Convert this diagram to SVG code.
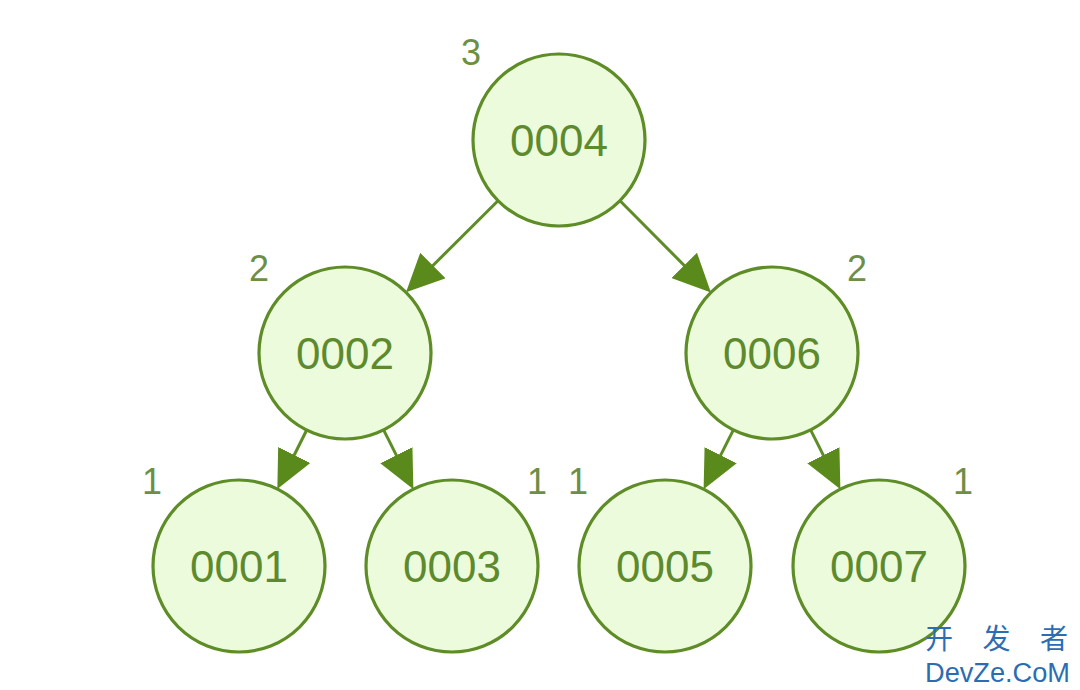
<svg xmlns="http://www.w3.org/2000/svg" width="1080" height="690" viewBox="0 0 1080 690">
<style>
.node circle{fill:#ecfbdc;stroke:#5e8c26;stroke-width:3.2}
.node text{fill:#5e8a2e;font-family:"Liberation Sans",Arial,sans-serif;font-size:44px;text-anchor:middle;dominant-baseline:central}
.lvl{fill:#6d8f45;font-family:"Liberation Sans",Arial,sans-serif;font-size:36px;text-anchor:middle}
.edge{stroke:#5e8c26;stroke-width:3;fill:none;marker-end:url(#ah)}
.wm{fill:#2b6db3;font-family:"Liberation Sans","Noto Sans CJK SC",sans-serif}
</style>
<defs>
<marker id="ah" markerUnits="userSpaceOnUse" markerWidth="38" markerHeight="36" viewBox="0 0 38 36" refX="28" refY="18" orient="auto">
<path d="M0,0 L38,18 L0,36 Z" fill="#5a8a1c"/>
</marker>
</defs>
<rect width="1080" height="690" fill="#ffffff"/>
<g id="connectors">
<line class="edge" x1="498" y1="200.7" x2="413.1" y2="285.3"/>
<line class="edge" x1="620" y1="200.7" x2="703.9" y2="285.3"/>
<line class="edge" x1="306.7" y1="430" x2="281.8" y2="480"/>
<line class="edge" x1="383.6" y1="429.8" x2="408.9" y2="480.2"/>
<line class="edge" x1="733.4" y1="429.8" x2="708.1" y2="480.2"/>
<line class="edge" x1="810.6" y1="429.8" x2="835.9" y2="480.2"/>
</g>
<g id="n0004" class="node"><circle cx="559" cy="140" r="86"/><text x="559" y="140">0004</text></g>
<g id="n0002" class="node"><circle cx="345" cy="353" r="86"/><text x="345" y="353">0002</text></g>
<g id="n0006" class="node"><circle cx="772" cy="353" r="86"/><text x="772" y="353">0006</text></g>
<g id="n0001" class="node"><circle cx="239" cy="566" r="86"/><text x="239" y="566">0001</text></g>
<g id="n0003" class="node"><circle cx="452" cy="566" r="86"/><text x="452" y="566">0003</text></g>
<g id="n0005" class="node"><circle cx="665" cy="566" r="86"/><text x="665" y="566">0005</text></g>
<g id="n0007" class="node"><circle cx="879" cy="566" r="86"/><text x="879" y="566">0007</text></g>
<g id="levels">
<text class="lvl" x="471" y="65">3</text>
<text class="lvl" x="259" y="281">2</text>
<text class="lvl" x="857" y="281">2</text>
<text class="lvl" x="152" y="494">1</text>
<text class="lvl" x="537" y="494">1</text>
<text class="lvl" x="578" y="494">1</text>
<text class="lvl" x="963" y="494">1</text>
</g>
<g id="watermark">
<text class="wm" x="925" y="649" font-size="28" textLength="143" lengthAdjust="spacing">开发者</text>
<text class="wm" x="925" y="682" font-size="27" textLength="145" lengthAdjust="spacingAndGlyphs">DevZe.CoM</text>
</g>
</svg>
